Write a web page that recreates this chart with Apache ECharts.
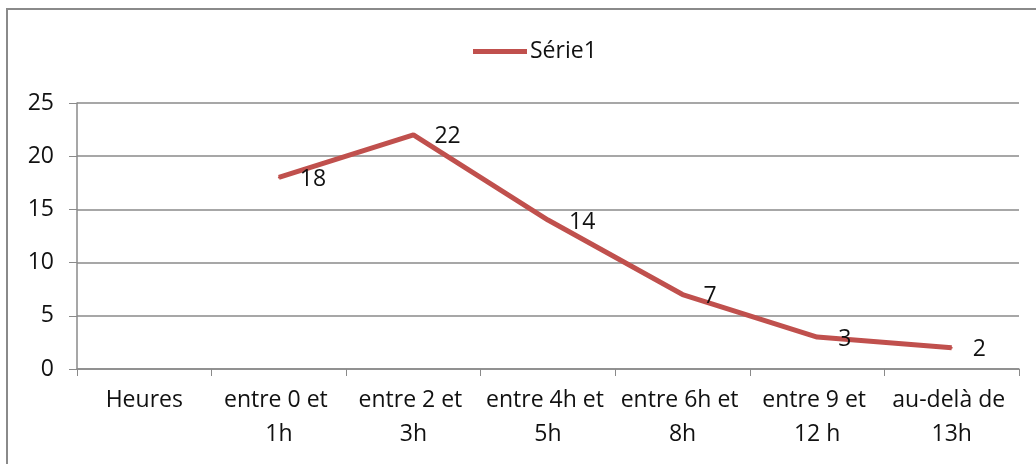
<!DOCTYPE html>
<html>
<head>
<meta charset="utf-8">
<script src="https://cdn.jsdelivr.net/npm/echarts@6/dist/echarts.min.js"></script>
<style>
  html, body { margin: 0; padding: 0; background: #fff; }
  #chart { width: 1036px; height: 464px; }
</style>
</head>
<body>
<div id="chart"></div>
<script>
// catégories (axe X)
var categories = ['Heures', 'entre 0 et 1h', 'entre 2 et 3h', 'entre 4h et 5h', 'entre 6h et 8h', 'entre 9 et 12 h', 'au-delà de 13h'];
// valeurs de la série
var serie1 = [null, 18, 22, 14, 7, 3, 2];
var seriesName = 'Série1';
// axe Y
var yMin = 0, yMax = 25, yStep = 5;

var font = "'Open Sans', 'Noto Sans', sans-serif";
var chart = echarts.init(document.getElementById('chart'), null, { renderer: 'canvas' });
chart.setOption({
  animation: false,
  backgroundColor: '#fff',
  textStyle: { fontFamily: font },
  graphic: [{
    type: 'rect',
    shape: { x: 7, y: 9, width: 1200, height: 600 },
    style: { fill: 'none', stroke: '#8a8a8a', lineWidth: 2 },
    silent: true
  }],
  legend: {
    left: 468,
    top: 35,
    itemWidth: 54,
    itemHeight: 5,
    icon: 'rect',
    itemGap: 4,
    textStyle: { fontSize: 23, color: '#111', fontFamily: font, padding: [0, 0, 0, -2] },
    data: [seriesName]
  },
  grid: { left: 77, right: 17, top: 103, bottom: 95, containLabel: false },
  xAxis: {
    type: 'category',
    data: categories,
    boundaryGap: true,
    axisLine: { lineStyle: { color: '#8a8a8a', width: 1.5 } },
    axisTick: { show: true, length: 7, lineStyle: { color: '#8a8a8a' } },
    axisLabel: {
      interval: 0,
      margin: 14,
      fontSize: 23,
      lineHeight: 34,
      color: '#111',
      width: 132,
      overflow: 'break',
      fontFamily: font
    },
    splitLine: { show: false }
  },
  yAxis: {
    type: 'value',
    min: yMin,
    max: yMax,
    interval: yStep,
    axisLine: { show: true, lineStyle: { color: '#8a8a8a', width: 1.5 } },
    axisTick: { show: true, length: 8, lineStyle: { color: '#8a8a8a' } },
    axisLabel: { margin: 23, fontSize: 23, color: '#111', fontFamily: font },
    splitLine: { show: true, lineStyle: { color: '#8a8a8a', width: 1.5 } }
  },
  series: [{
    name: seriesName,
    type: 'line',
    data: serie1,
    connectNulls: false,
    symbol: 'circle',
    symbolSize: 2,
    itemStyle: { color: '#C0504D' },
    lineStyle: { color: '#C0504D', width: 5 },
    label: {
      show: true,
      position: 'right',
      distance: 20,
      offset: [0, 2],
      fontSize: 23,
      color: '#111',
      fontFamily: font
    }
  }]
});
</script>
</body>
</html>
